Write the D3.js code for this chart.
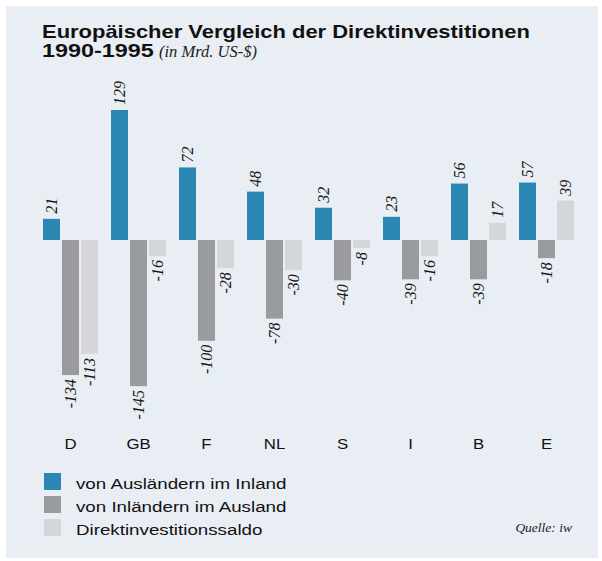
<!DOCTYPE html>
<html><head><meta charset="utf-8">
<script src="https://cdn.jsdelivr.net/npm/d3@7"></script>
<style>body{margin:0;background:#fff}svg{display:block}</style>
</head><body>
<script>
const categories = ["D","GB","F","NL","S","I","B","E"];
const seriesNames = ["von Ausländern im Inland","von Inländern im Ausland","Direktinvestitionssaldo"];
const inland = [21,129,72,48,32,23,56,57];
const ausland = [-134,-145,-100,-78,-40,-39,-39,-18];
const saldo = [-113,-16,-28,-30,-8,-16,17,39];
const series = [inland, ausland, saldo];
const colors = ["#2a86b3","#9a9b9e","#d5d6d9"];

const W = 602, H = 561;
const SANS = "Liberation Sans, Arial, sans-serif";
const SERIF = "Liberation Serif, Times New Roman, serif";
const WIDE = 1.22;
const svg = d3.select("body").append("svg").attr("width",W).attr("height",H);
svg.append("rect").attr("x",6).attr("y",6).attr("width",592).attr("height",552).attr("fill","#e9edf4");

// title (wide sans face emulated with horizontal scale)
svg.append("text").attr("transform",`translate(42,37.5) scale(${WIDE},1)`)
  .attr("font-family",SANS).attr("font-weight","bold").attr("font-size",18).attr("fill","#111")
  .text("Europäischer Vergleich der Direktinvestitionen");
svg.append("text").attr("transform",`translate(42,57) scale(1.3,1)`)
  .attr("font-family",SANS).attr("font-weight","bold").attr("font-size",18).attr("fill","#111")
  .text("1990-1995");
svg.append("text").attr("x",159).attr("y",57)
  .attr("font-family",SERIF).attr("font-style","italic").attr("font-size",16.5).attr("fill","#222")
  .text("(in Mrd. US-$)");

const x = d3.scaleBand().domain(categories).range([43, 43+68*8]).padding(0);
const bw = 17, gap = 2;
const y = d3.scaleLinear().domain([0,129]).range([240,110]);

series.forEach((vals, si) => {
  const g = svg.append("g");
  const xo = d => x(categories[d.i]) + si*(bw+gap);
  const data = vals.map((v,i)=>({v,i}));
  g.selectAll("rect").data(data).join("rect")
    .attr("x", xo)
    .attr("y", d => Math.min(y(d.v), y(0)))
    .attr("width", bw)
    .attr("height", d => Math.abs(y(d.v)-y(0)))
    .attr("fill", colors[si]);
  g.selectAll("text").data(data).join("text")
    .attr("font-family",SERIF)
    .attr("font-style","italic").attr("font-size",16).attr("fill","#1a1a1a")
    .attr("dy","0.33em")
    .attr("text-anchor", d => d.v >= 0 ? "start" : "end")
    .attr("transform", d => {
      const cx = xo(d) + bw/2;
      const cy = d.v >= 0 ? y(d.v) - 5 : y(d.v) + 4;
      return `translate(${cx},${cy}) rotate(-90)`;
    })
    .text(d => d.v);
});

// category labels
svg.append("g").selectAll("text").data(categories).join("text")
  .attr("transform", c => `translate(${x(c) + (3*bw+2*gap)/2},448.5) scale(1.12,1)`)
  .attr("text-anchor","middle")
  .attr("font-family",SANS).attr("font-size",15).attr("fill","#111")
  .text(c => c);

// legend
const lg = svg.append("g");
seriesNames.forEach((n,i) => {
  lg.append("rect").attr("x",44).attr("y",473+i*23).attr("width",17).attr("height",17).attr("fill",colors[i]);
  lg.append("text").attr("transform",`translate(76,${488.5+i*23}) scale(1.21,1)`)
    .attr("font-family",SANS).attr("font-size",15.5).attr("fill","#111").text(n);
});

svg.append("text").attr("x",572).attr("y",532).attr("text-anchor","end")
  .attr("font-family",SERIF).attr("font-style","italic").attr("font-size",13.5).attr("fill","#222")
  .text("Quelle: iw");
</script>
</body></html>
